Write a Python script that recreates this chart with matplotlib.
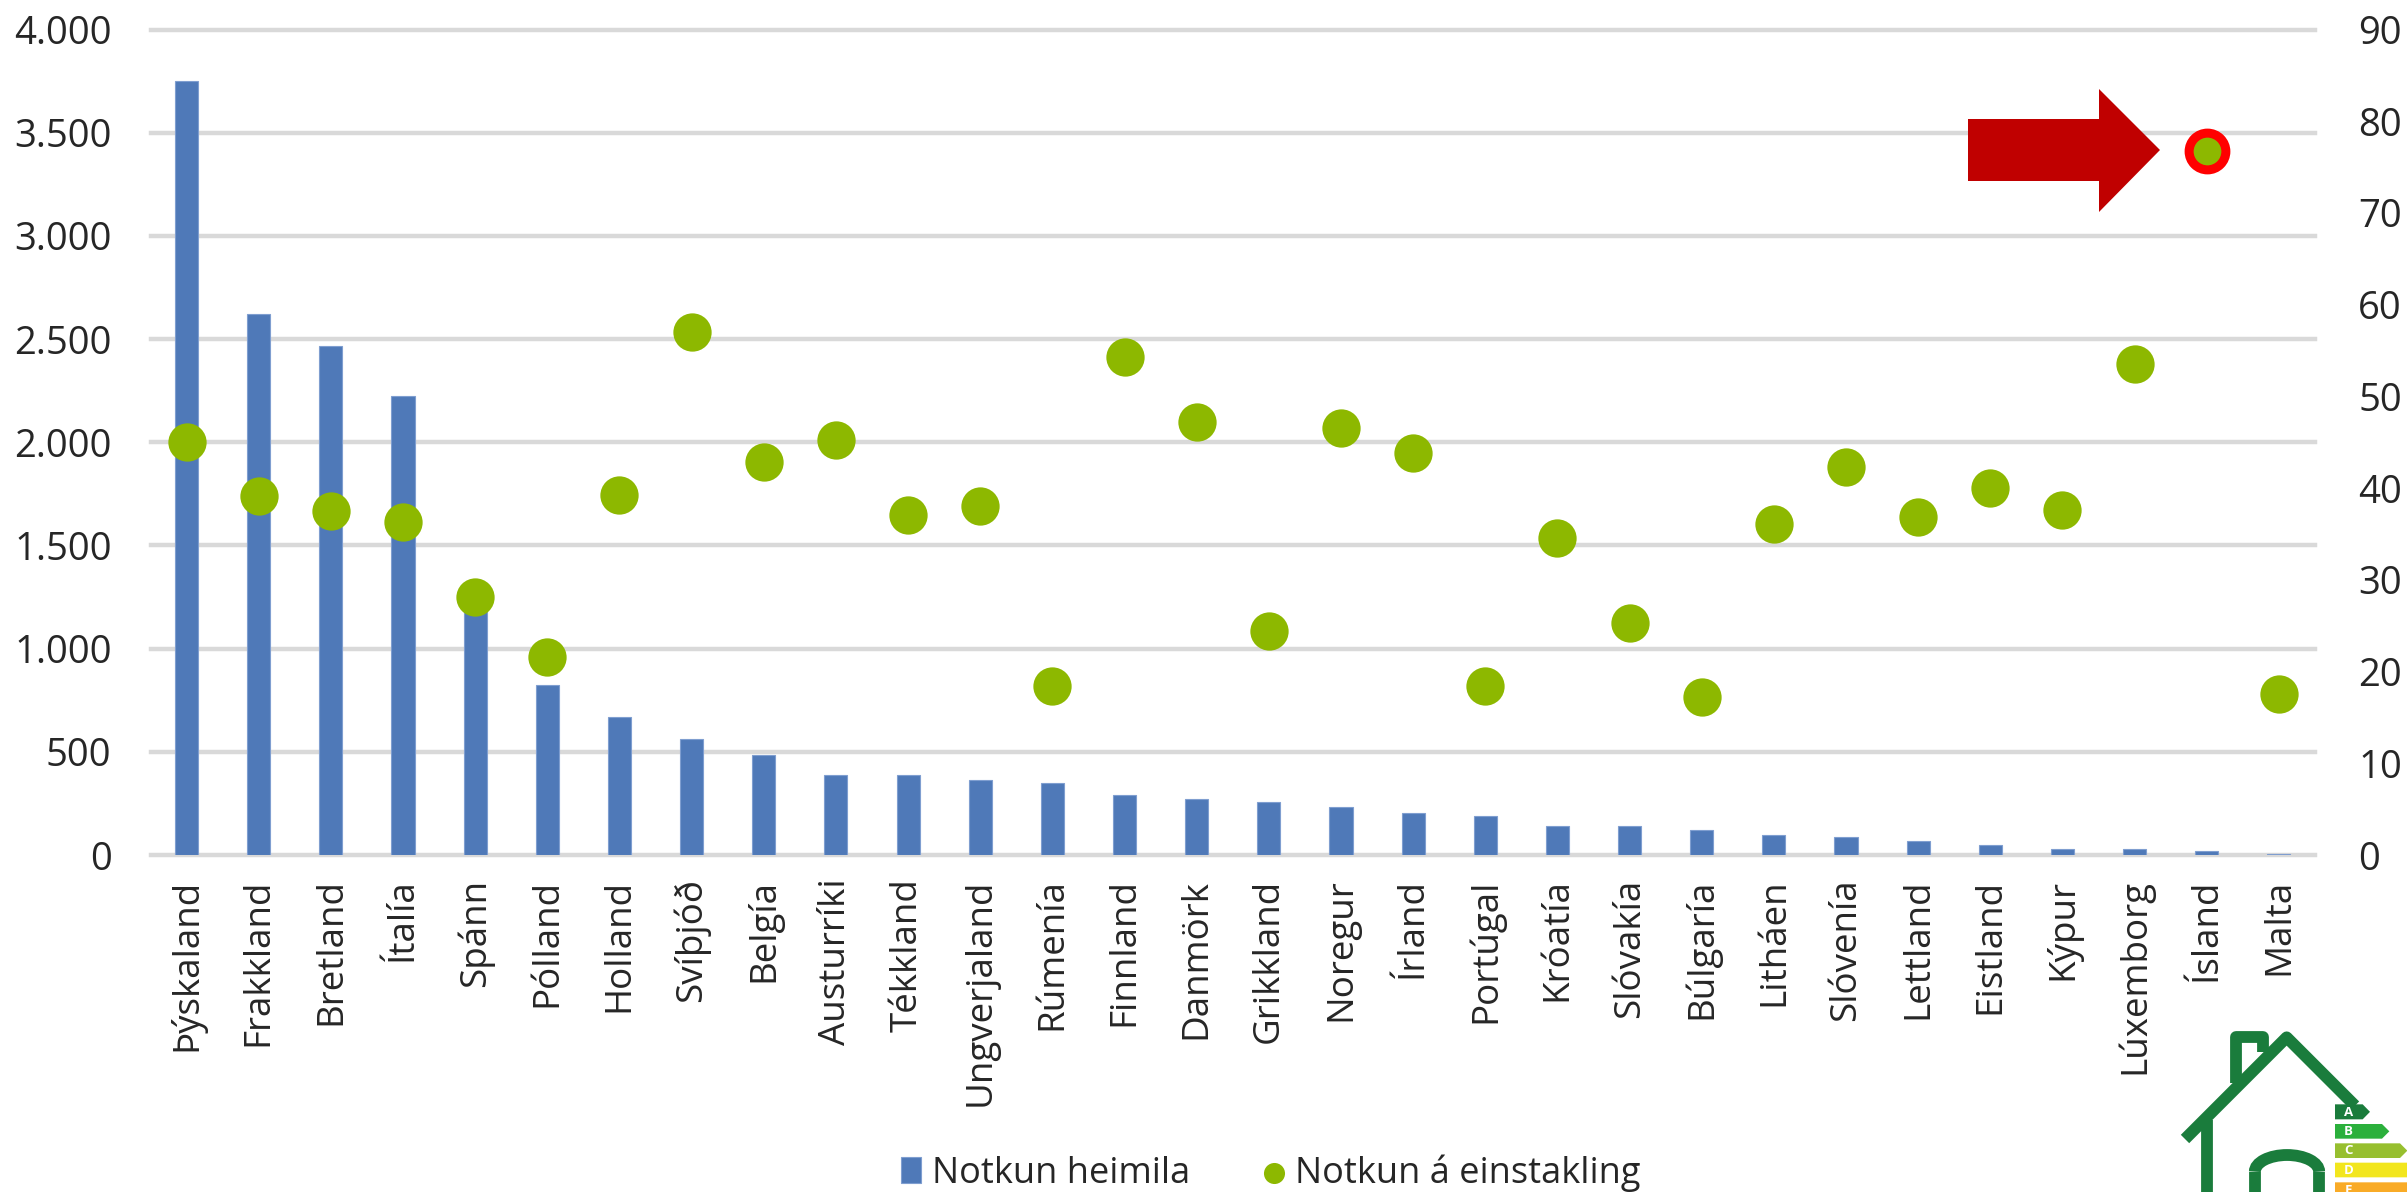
import numpy as np
import matplotlib
matplotlib.use('Agg')
import matplotlib.pyplot as plt
from matplotlib.patches import Polygon, Arc

plt.rcParams['font.family'] = ['Open Sans', 'DejaVu Sans']

# ============ DATA ============
countries = ['Þýskaland', 'Frakkland', 'Bretland', 'Ítalía', 'Spánn', 'Pólland',
             'Holland', 'Svíþjóð', 'Belgía', 'Austurríki', 'Tékkland',
             'Ungverjaland', 'Rúmenía', 'Finnland', 'Danmörk', 'Grikkland',
             'Noregur', 'Írland', 'Portúgal', 'Króatía', 'Slóvakía', 'Búlgaría',
             'Litháen', 'Slóvenía', 'Lettland', 'Eistland', 'Kýpur', 'Lúxemborg',
             'Ísland', 'Malta']
heimili = [3750, 2620, 2465, 2225, 1205, 825, 670, 560, 485, 390, 390, 365, 350,
           290, 270, 255, 235, 205, 190, 140, 140, 120, 95, 85, 70, 50, 30, 28, 20, 3]
einstaklingur = [45.0, 39.1, 37.5, 36.3, 28.1, 21.6, 39.3, 57.0, 42.8, 45.2, 37.1,
                 38.0, 18.4, 54.3, 47.2, 24.4, 46.5, 43.8, 18.4, 34.6, 25.3, 17.2,
                 36.1, 42.3, 36.8, 40.0, 37.6, 53.5, 76.8, 17.5]
left_ticks = [0, 500, 1000, 1500, 2000, 2500, 3000, 3500, 4000]
left_labels = ['0', '500', '1.000', '1.500', '2.000', '2.500', '3.000', '3.500', '4.000']
right_ticks = [0, 10, 20, 30, 40, 50, 60, 70, 80, 90]
highlight = 'Ísland'

W, H = 2407, 1192
TEXT = '#262626'
FS = 27.5

fig = plt.figure(figsize=(W / 100, H / 100), dpi=100)
ax = fig.add_axes([150.5 / W, 1 - 855 / H, (2315 - 150.5) / W, (855 - 29.5) / H])
x = np.arange(len(countries))

# ============ BARS + GRID ============
bars = ax.bar(x, heimili, width=0.32, color='#4F79B8', edgecolor='#7f9ed0',
              linewidth=0.8, zorder=3, label='Notkun heimila')
ax.set_xlim(-0.5, len(countries) - 0.5)
ax.set_ylim(0, 4000)
ax.set_yticks(left_ticks)
ax.set_yticklabels(left_labels)
ax.set_xticks(x)
ax.set_xticklabels(countries, rotation=90, ha='center', va='top', fontsize=26.5)
ax.grid(axis='y', color='#d9d9d9', linewidth=3.2, zorder=0)
ax.set_axisbelow(True)
ax.tick_params(axis='y', length=0, labelsize=FS, labelcolor=TEXT, pad=28)
ax.tick_params(axis='x', length=0, labelcolor=TEXT, pad=17)
for s in ax.spines.values():
    s.set_visible(False)
for gl in ax.get_ygridlines():
    gl.set_clip_on(False)

# ============ DOTS (right axis) ============
ax2 = ax.twinx()
ax2.set_ylim(0, 90)
ax2.set_yticks(right_ticks)
ax2.tick_params(axis='y', length=0, labelsize=FS, labelcolor=TEXT, pad=31)
for s in ax2.spines.values():
    s.set_visible(False)
dots = ax2.scatter(x, einstaklingur, s=760, color='#8DB800', linewidth=0, zorder=5,
                   clip_on=False, label='Notkun á einstakling')
i_hl = countries.index(highlight)
ax2.scatter([x[i_hl]], [einstaklingur[i_hl]], s=700, color='#8DB800', edgecolor='#FF0000',
            linewidth=6.5, zorder=6, clip_on=False)

# ============ LEGEND ============
fig.legend([bars, dots], ['Notkun heimila', 'Notkun á einstakling'],
           loc='center', bbox_to_anchor=(1271 / W, 1 - 1173 / H), ncol=2, frameon=False,
           fontsize=26, labelcolor=TEXT, handlelength=0.55, handletextpad=0.3,
           columnspacing=2.05, markerscale=0.55, borderpad=0)

# ============ ARROW + LOGO, in image pixels ============
deco = fig.add_axes([0, 0, 1, 1], zorder=10)
deco.set_xlim(0, W)
deco.set_ylim(H, 0)
deco.axis('off')
deco.patch.set_alpha(0)

deco.add_patch(Polygon([(1968, 119), (2099, 119), (2099, 89), (2160, 150), (2099, 212),
                        (2099, 181), (1968, 181)], closed=True, color='#C00000', lw=0))


def zx(v):
    return 1900 + v / 3


def zy(v):
    return 950 + v / 3


GREEN = '#1A7C3C'
LW = 8.5
deco.plot([zx(855), zx(1160), zx(1365)], [zy(567), zy(262), zy(467)], color=GREEN, lw=LW,
          solid_joinstyle='round', solid_capstyle='butt')
deco.plot([zx(922), zx(922)], [zy(510), zy(740)], color=GREEN, lw=LW, solid_capstyle='butt')
deco.plot([zx(1008), zx(1008), zx(1090), zx(1090)], [zy(400), zy(262), zy(262), zy(305)],
          color=GREEN, lw=LW, solid_joinstyle='round', solid_capstyle='butt')
deco.plot([zx(1065), zx(1065)], [zy(665), zy(740)], color=GREEN, lw=LW, solid_capstyle='butt')
deco.plot([zx(1258), zx(1258)], [zy(665), zy(740)], color=GREEN, lw=LW, solid_capstyle='butt')
deco.add_patch(Arc((zx(1161), zy(665)), (1258 - 1065) / 3, 100 / 3, theta1=180, theta2=360,
                   color=GREEN, lw=LW))

for letter, y0, y1, x1, col in [('A', 463, 508, 1410, '#1A7C3C'), ('B', 522, 566, 1468, '#2BB03C'),
                                ('C', 580, 624, 1522, '#97BF2F'), ('D', 638, 682, 1600, '#F2E61E'),
                                ('E', 697, 741, 1660, '#F9AB27')]:
    ym = (y0 + y1) / 2
    deco.add_patch(Polygon([(zx(1305), zy(y0)), (zx(x1 - 22), zy(y0)), (zx(x1), zy(ym)),
                            (zx(x1 - 22), zy(y1)), (zx(1305), zy(y1))], closed=True, color=col, lw=0))
    deco.text(zx(1345), zy(ym + 1), letter, color='white', fontsize=9.5, fontweight='bold',
              ha='center', va='center')

plt.savefig('out.png', dpi=100)
plt.close()
